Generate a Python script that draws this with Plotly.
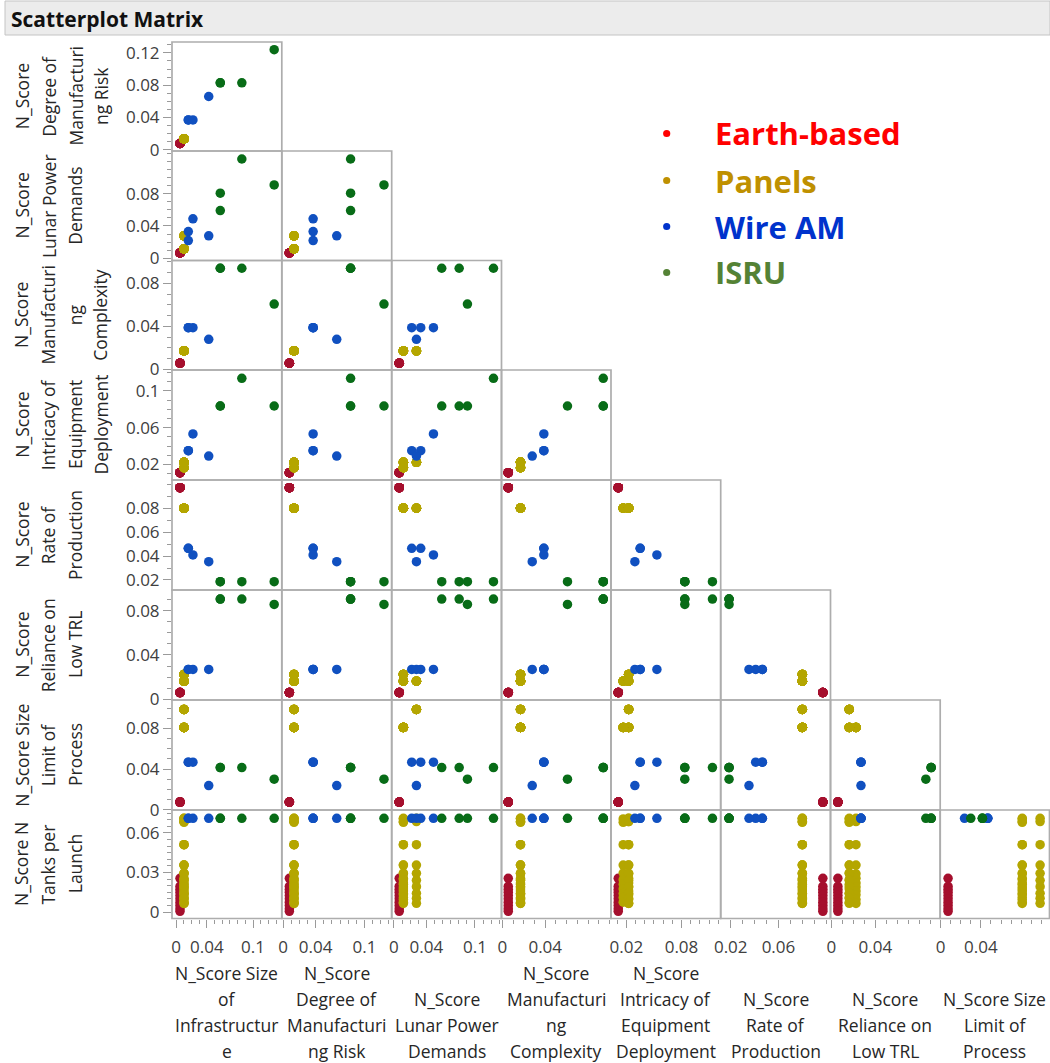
import numpy as np
import plotly.graph_objects as go

W, H = 1050, 1063

# ---------------- data ----------------
groups = ["Earth-based", "Panels", "Wire AM", "ISRU"]
marker_colors = ["#A50F2D", "#B4A600", "#1050C0", "#086C17"]
legend_colors = ["#FF0000", "#BF9000", "#0033CC", "#548235"]

config_group = ["Earth-based", "Panels", "Panels", "Panels",
                "Wire AM", "Wire AM", "Wire AM", "Wire AM",
                "ISRU", "ISRU", "ISRU", "ISRU"]
size_of_infrastructure = [0.0052, 0.0104, 0.0104, 0.0104, 0.0160, 0.0160, 0.0220, 0.0425, 0.0575, 0.0575, 0.0855, 0.1275]
degree_of_mfg_risk = [0.0078, 0.0135, 0.0135, 0.0135, 0.0370, 0.0370, 0.0370, 0.0660, 0.0830, 0.0830, 0.0830, 0.1240]
lunar_power_demands = [0.0066, 0.0117, 0.0117, 0.0278, 0.0331, 0.0220, 0.0488, 0.0278, 0.0590, 0.0805, 0.1228, 0.0907]
mfg_complexity = [0.0056, 0.0170, 0.0170, 0.0170, 0.0387, 0.0387, 0.0387, 0.0279, 0.0940, 0.0940, 0.0940, 0.0607]
intricacy_deployment = [0.0111, 0.0224, 0.0165, 0.0224, 0.0350, 0.0350, 0.0532, 0.0292, 0.0836, 0.0836, 0.1137, 0.0836]
rate_of_production = [0.0972, 0.0800, 0.0800, 0.0800, 0.0465, 0.0465, 0.0409, 0.0353, 0.0186, 0.0186, 0.0186, 0.0186]
reliance_low_trl = [0.0060, 0.0224, 0.0163, 0.0163, 0.0269, 0.0269, 0.0269, 0.0269, 0.0905, 0.0905, 0.0905, 0.0857]
size_limit_process = [0.0075, 0.0810, 0.0810, 0.0987, 0.0468, 0.0468, 0.0468, 0.0238, 0.0415, 0.0415, 0.0415, 0.0300]
n_tanks_per_launch = [
    [0.0255, 0.0195, 0.0172, 0.0150, 0.0125, 0.0100, 0.0075, 0.0050, 0.0025, 0.0005],
    [0.0710, 0.0685, 0.0510, 0.0356, 0.0290, 0.0255, 0.0220, 0.0190, 0.0160, 0.0130, 0.0095, 0.0065],
    [0.0705, 0.0680, 0.0510, 0.0356, 0.0295, 0.0245, 0.0210, 0.0175, 0.0140, 0.0110, 0.0075],
    [0.0710, 0.0685, 0.0510, 0.0356, 0.0293, 0.0240, 0.0192, 0.0142, 0.0104, 0.0066],
    [0.0710], [0.0710], [0.0710], [0.0710],
    [0.0710], [0.0710], [0.0710], [0.0710],
]

var_title_lines = [
    ["N_Score Size", "of", "Infrastructur", "e"],
    ["N_Score", "Degree of", "Manufacturi", "ng Risk"],
    ["N_Score", "Lunar Power", "Demands"],
    ["N_Score", "Manufacturi", "ng", "Complexity"],
    ["N_Score", "Intricacy of", "Equipment", "Deployment"],
    ["N_Score", "Rate of", "Production"],
    ["N_Score", "Reliance on", "Low TRL"],
    ["N_Score Size", "Limit of", "Process"],
    ["N_Score N", "Tanks per", "Launch"],
]

x_tick_vals = [[0, 0.04, 0.1], [0, 0.04, 0.1], [0, 0.04, 0.1], [0, 0.04],
               [0.02, 0.08], [0.02, 0.06], [0, 0.04], [0, 0.04]]
y_tick_vals = [None, [0, 0.04, 0.08, 0.12], [0, 0.04, 0.08], [0, 0.04, 0.08],
               [0.02, 0.06, 0.1], [0.02, 0.04, 0.06, 0.08], [0, 0.04, 0.08],
               [0, 0.04, 0.08], [0, 0.03, 0.06]]

# ---------------- build observations ----------------
config_vars = [size_of_infrastructure, degree_of_mfg_risk, lunar_power_demands,
               mfg_complexity, intricacy_deployment, rate_of_production,
               reliance_low_trl, size_limit_process]
obs = [[] for _ in range(9)]
obs_group = []
for k, g in enumerate(config_group):
    for t in n_tanks_per_launch[k]:
        for v, arr in enumerate(config_vars):
            obs[v].append(arr[k])
        obs[8].append(t)
        obs_group.append(g)
obs = [np.array(o) for o in obs]
obs_group = np.array(obs_group)

# ---------------- layout geometry ----------------
ranges = [(-0.0052, 0.1374), (-0.0015, 0.1335), (-0.0027, 0.1327), (-0.0007, 0.1012),
          (0.0032, 0.1227), (0.0116, 0.1036), (-0.0007, 0.0987), (-0.0003, 0.1080),
          (-0.0049, 0.0773)]
minor_step = [0.01, 0.01, 0.01, 0.01, 0.01, 0.01, 0.01, 0.01, 0.005]
col_edges = [172, 281.8, 391.7, 501.5, 611, 720.7, 830.5, 940.2, 1049.5]
row_edges = [42, 151, 260.5, 370, 480, 590, 700, 810, 918.5]

FONT = "Open Sans, Noto Sans, sans-serif"
frame_col = "#ADADAD"
tick_col = "#9A9A9A"
TICK_SIZE = 17

def fmt(v):
    return "0" if v == 0 else f"{v:g}"

def minor_vals(v):
    lo, hi = ranges[v]
    s = minor_step[v]
    return [round(x, 4) for x in np.arange(np.floor(lo / s) * s, hi + s, s) if lo <= x <= hi]

fig = go.Figure()
shapes = []
n = 0
for r in range(8):
    yv = r + 1
    for c in range(r + 1):
        xv = c
        n += 1
        xa = "x" if n == 1 else f"x{n}"
        ya = "y" if n == 1 else f"y{n}"
        for gi, g in enumerate(groups):
            m = obs_group == g
            fig.add_trace(go.Scatter(
                x=obs[xv][m], y=obs[yv][m], mode="markers",
                marker=dict(size=9.5, color=marker_colors[gi], line=dict(width=0)),
                name=g, showlegend=False, xaxis=xa, yaxis=ya, hoverinfo="x+y+name"))
        xkey = "xaxis" if n == 1 else f"xaxis{n}"
        ykey = "yaxis" if n == 1 else f"yaxis{n}"
        xdict = dict(domain=[col_edges[c] / W, col_edges[c + 1] / W], range=list(ranges[xv]),
                     anchor=ya, showline=False, showgrid=False, zeroline=False,
                     fixedrange=True, automargin=False)
        if r == 7:
            xdict.update(tickmode="array", tickvals=x_tick_vals[xv],
                         ticktext=[fmt(t) for t in x_tick_vals[xv]],
                         ticks="outside", ticklen=8, tickcolor=tick_col, tickwidth=1,
                         tickangle=0, showticklabels=True, ticklabelstandoff=5,
                         tickfont=dict(family=FONT, size=TICK_SIZE, color="#404040"),
                         minor=dict(tickmode="array", tickvals=minor_vals(xv), ticks="outside",
                                    ticklen=4, tickcolor=tick_col, tickwidth=1, showgrid=False))
        else:
            xdict.update(showticklabels=False, ticks="")
        ydict = dict(domain=[1 - row_edges[r + 1] / H, 1 - row_edges[r] / H], range=list(ranges[yv]),
                     anchor=xa, showline=False, showgrid=False, zeroline=False,
                     fixedrange=True, automargin=False)
        if c == 0:
            ydict.update(tickmode="array", tickvals=y_tick_vals[yv],
                         ticktext=[fmt(t) for t in y_tick_vals[yv]],
                         ticks="outside", ticklen=8, tickcolor=tick_col, tickwidth=1,
                         showticklabels=True,
                         tickfont=dict(family=FONT, size=TICK_SIZE, color="#404040"),
                         minor=dict(tickmode="array", tickvals=minor_vals(yv), ticks="outside",
                                    ticklen=4, tickcolor=tick_col, tickwidth=1, showgrid=False))
        else:
            ydict.update(showticklabels=False, ticks="")
        fig.layout[xkey] = xdict
        fig.layout[ykey] = ydict
        # cell frame (shared edges drawn once visually)
        shapes.append(dict(type="rect", xref="paper", yref="paper",
                           x0=col_edges[c] / W, x1=col_edges[c + 1] / W,
                           y0=1 - row_edges[r + 1] / H, y1=1 - row_edges[r] / H,
                           line=dict(color=frame_col, width=1.7), fillcolor="rgba(0,0,0,0)",
                           layer="above"))

annotations = []

# title bar
shapes.append(dict(type="rect", xref="paper", yref="paper", x0=5 / W, x1=1.0,
                   y0=1 - 35 / H, y1=1 - 1 / H, fillcolor="#ECECEC",
                   line=dict(color="#C4C4C4", width=1), layer="below"))
annotations.append(dict(text="<b>Scatterplot Matrix</b>", x=9 / W, y=1 - 19 / H,
                        xref="paper", yref="paper", xanchor="left", yanchor="middle",
                        showarrow=False, font=dict(family=FONT, size=21, color="#111111")))

# left (row) titles
left_x = [21.7, 48.3, 75.0, 100.5]
for r in range(8):
    lines = var_title_lines[r + 1]
    cy = (row_edges[r] + row_edges[r + 1]) / 2
    for i, ln in enumerate(lines):
        annotations.append(dict(text=ln, x=left_x[i] / W, y=1 - cy / H, xref="paper", yref="paper",
                                xanchor="center", yanchor="middle", textangle=-90, showarrow=False,
                                font=dict(family=FONT, size=17.5, color="#262626")))

# bottom (column) titles
bottom_y = [973.3, 999.3, 1025.0, 1050.5]
for c in range(8):
    lines = var_title_lines[c]
    cx = (col_edges[c] + col_edges[c + 1]) / 2
    ys = bottom_y[4 - len(lines):]
    for i, ln in enumerate(lines):
        annotations.append(dict(text=ln, x=cx / W, y=1 - ys[i] / H, xref="paper", yref="paper",
                                xanchor="center", yanchor="middle", showarrow=False,
                                font=dict(family=FONT, size=17.5, color="#262626")))

# custom legend
leg_y = [133.5, 180.5, 226.5, 272.5]
for gi, g in enumerate(groups):
    cxp, cyp, rad = 666.7, leg_y[gi], 3.6
    shapes.append(dict(type="circle", xref="paper", yref="paper",
                       x0=(cxp - rad) / W, x1=(cxp + rad) / W,
                       y0=1 - (cyp + rad) / H, y1=1 - (cyp - rad) / H,
                       fillcolor=legend_colors[gi], line=dict(width=0)))
    annotations.append(dict(text=f"<b>{g}</b>", x=713 / W, y=1 - leg_y[gi] / H,
                            xref="paper", yref="paper", xanchor="left", yanchor="middle",
                            showarrow=False, font=dict(family=FONT, size=31, color=legend_colors[gi])))

fig.update_layout(width=W, height=H,
                  margin=dict(l=0, r=0, t=0, b=0, pad=0, autoexpand=False),
                  paper_bgcolor="white", plot_bgcolor="rgba(0,0,0,0)",
                  annotations=annotations, shapes=shapes, showlegend=False,
                  hovermode="closest")

post = (
    "document.documentElement.style.margin='0';"
    "document.documentElement.style.padding='0';"
    "document.documentElement.style.height='1063px';"
    "document.documentElement.style.overflow='hidden';"
    "document.body.style.margin='0';"
    "document.body.style.padding='0';"
    "document.body.style.height='1063px';"
    "document.body.style.overflow='hidden';"
)
fig.write_html("out.html", include_plotlyjs=True, full_html=True,
               config={"displayModeBar": False}, post_script=post)
